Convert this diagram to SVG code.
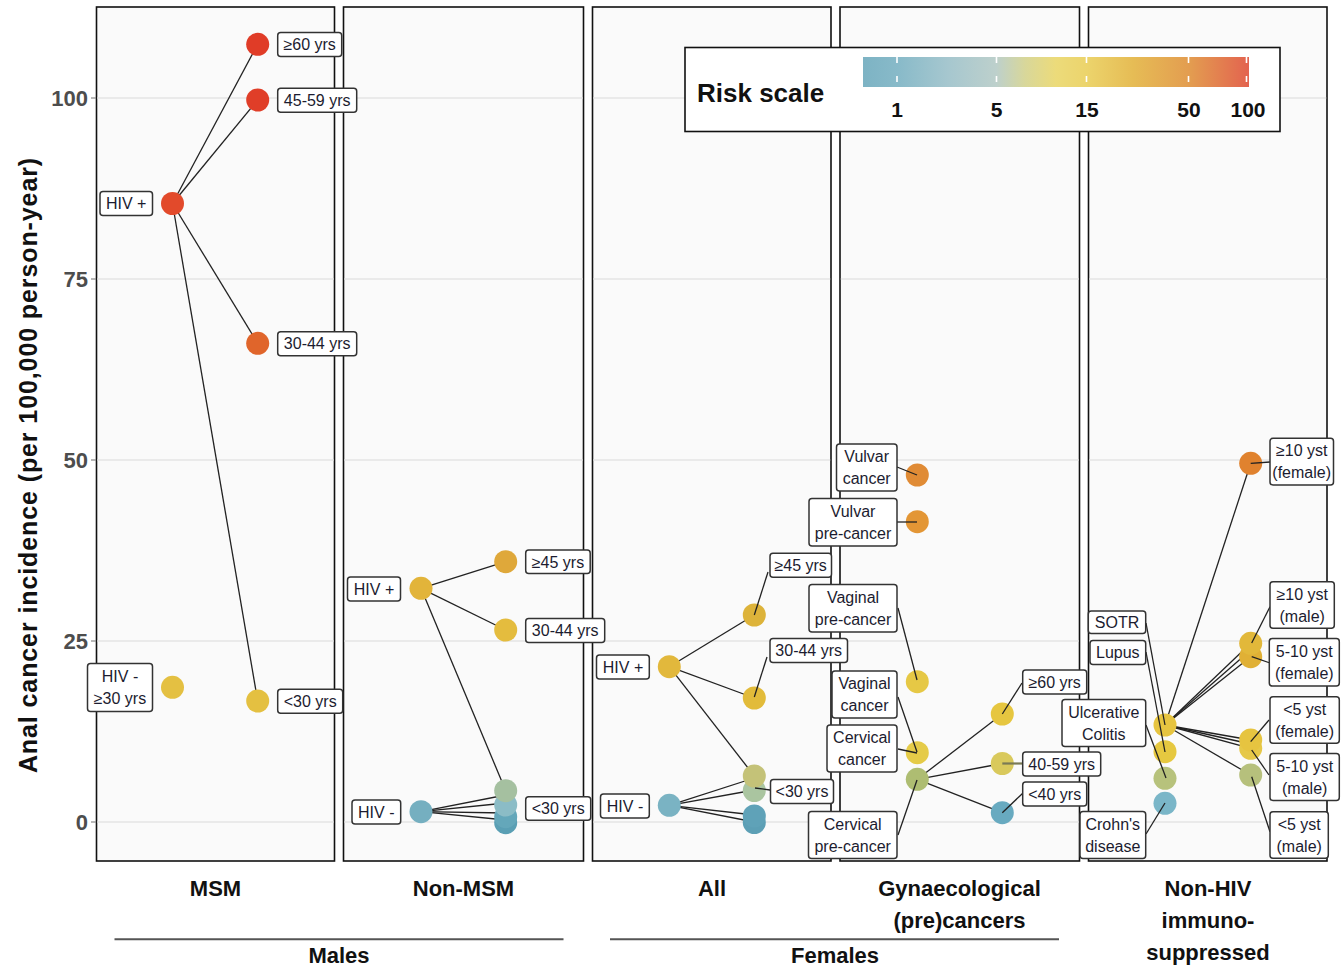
<svg xmlns="http://www.w3.org/2000/svg" width="1342" height="966" viewBox="0 0 1342 966">
<defs>
<linearGradient id="risk" x1="0" y1="0" x2="1" y2="0">
<stop offset="0" stop-color="#7db3c4"/>
<stop offset="0.09" stop-color="#88bac9"/>
<stop offset="0.22" stop-color="#a6c7cf"/>
<stop offset="0.345" stop-color="#bdd0cc"/>
<stop offset="0.42" stop-color="#d8d79a"/>
<stop offset="0.50" stop-color="#ecdb7a"/>
<stop offset="0.58" stop-color="#ecd46c"/>
<stop offset="0.70" stop-color="#e6bc55"/>
<stop offset="0.849" stop-color="#e39c50"/>
<stop offset="1" stop-color="#e3634f"/>
</linearGradient>
<style>
.panel{fill:#fafafa;stroke:#111;stroke-width:1.6}
.grid{stroke:#e4e4e4;stroke-width:1.5}
.tick{stroke:#888;stroke-width:1.2}
.ytxt{font-family:"Liberation Sans",Arial,sans-serif;font-size:22px;font-weight:bold;fill:#4d4d4d;text-anchor:end}
.conn line{stroke:#222;stroke-width:1.3}
.lead line{stroke:#222;stroke-width:1.3}
.lbl rect{fill:#fff;stroke:#333;stroke-width:1.5}
.lbl text{font-family:"Liberation Sans",Arial,sans-serif;font-size:16px;fill:#1c1c30;text-anchor:middle}
.strip{font-family:"Liberation Sans",Arial,sans-serif;font-size:22px;font-weight:bold;fill:#111;text-anchor:middle}
.leg{font-family:"Liberation Sans",Arial,sans-serif;font-weight:bold;fill:#111}
</style>
</defs>
<rect width="1342" height="966" fill="#fff"/>

<g id="panels">
<rect class="panel" x="96.5" y="7" width="238" height="854"/>
<rect class="panel" x="343.5" y="7" width="240" height="854"/>
<rect class="panel" x="592.5" y="7" width="238.5" height="854"/>
<rect class="panel" x="840" y="7" width="239.5" height="854"/>
<rect class="panel" x="1088.5" y="7" width="238.5" height="854"/>
<g id="gridlines">
<line class="grid" x1="97.3" y1="822" x2="333.7" y2="822"/><line class="grid" x1="344.3" y1="822" x2="582.7" y2="822"/><line class="grid" x1="593.3" y1="822" x2="830.2" y2="822"/><line class="grid" x1="840.8" y1="822" x2="1078.7" y2="822"/><line class="grid" x1="1089.3" y1="822" x2="1326.2" y2="822"/>
<line class="grid" x1="97.3" y1="641" x2="333.7" y2="641"/><line class="grid" x1="344.3" y1="641" x2="582.7" y2="641"/><line class="grid" x1="593.3" y1="641" x2="830.2" y2="641"/><line class="grid" x1="840.8" y1="641" x2="1078.7" y2="641"/><line class="grid" x1="1089.3" y1="641" x2="1326.2" y2="641"/>
<line class="grid" x1="97.3" y1="460" x2="333.7" y2="460"/><line class="grid" x1="344.3" y1="460" x2="582.7" y2="460"/><line class="grid" x1="593.3" y1="460" x2="830.2" y2="460"/><line class="grid" x1="840.8" y1="460" x2="1078.7" y2="460"/><line class="grid" x1="1089.3" y1="460" x2="1326.2" y2="460"/>
<line class="grid" x1="97.3" y1="279" x2="333.7" y2="279"/><line class="grid" x1="344.3" y1="279" x2="582.7" y2="279"/><line class="grid" x1="593.3" y1="279" x2="830.2" y2="279"/><line class="grid" x1="840.8" y1="279" x2="1078.7" y2="279"/><line class="grid" x1="1089.3" y1="279" x2="1326.2" y2="279"/>
<line class="grid" x1="97.3" y1="98" x2="333.7" y2="98"/><line class="grid" x1="344.3" y1="98" x2="582.7" y2="98"/><line class="grid" x1="593.3" y1="98" x2="830.2" y2="98"/><line class="grid" x1="840.8" y1="98" x2="1078.7" y2="98"/><line class="grid" x1="1089.3" y1="98" x2="1326.2" y2="98"/>
</g>
</g>

<g id="y-axis">
<line class="tick" x1="91" y1="822" x2="96" y2="822"/><line class="tick" x1="91" y1="641" x2="96" y2="641"/><line class="tick" x1="91" y1="460" x2="96" y2="460"/><line class="tick" x1="91" y1="279" x2="96" y2="279"/><line class="tick" x1="91" y1="98" x2="96" y2="98"/>
<text class="ytxt" x="88" y="830">0</text>
<text class="ytxt" x="88" y="649">25</text>
<text class="ytxt" x="88" y="468">50</text>
<text class="ytxt" x="88" y="287">75</text>
<text class="ytxt" x="88" y="106">100</text>
<text transform="translate(37,465) rotate(-90)" font-family="Liberation Sans, Arial, sans-serif" font-size="25" font-weight="bold" letter-spacing="0.9" fill="#111" text-anchor="middle">Anal cancer incidence (per 100,000 person-year)</text>
</g>

<g id="connectors" class="conn">
<line x1="172.5" y1="203.5" x2="257.7" y2="44.3"/>
<line x1="172.5" y1="203.5" x2="257.7" y2="100"/>
<line x1="172.5" y1="203.5" x2="257.7" y2="343.3"/>
<line x1="172.5" y1="203.5" x2="257.7" y2="701"/>
<line x1="421" y1="588.3" x2="505.7" y2="561.7"/>
<line x1="421" y1="588.3" x2="505.7" y2="630"/>
<line x1="421" y1="588.3" x2="505.7" y2="790.7"/>
<line x1="421" y1="811.7" x2="505.7" y2="795"/>
<line x1="421" y1="811.7" x2="505.7" y2="803"/>
<line x1="421" y1="811.7" x2="505.7" y2="813"/>
<line x1="421" y1="811.7" x2="505.7" y2="820"/>
<line x1="669.3" y1="666.7" x2="754.3" y2="615"/>
<line x1="669.3" y1="666.7" x2="754.3" y2="698"/>
<line x1="669.3" y1="666.7" x2="754.3" y2="776"/>
<line x1="669.3" y1="805.3" x2="754.3" y2="778"/>
<line x1="669.3" y1="805.3" x2="754.3" y2="790"/>
<line x1="669.3" y1="805.3" x2="754.3" y2="815"/>
<line x1="669.3" y1="805.3" x2="754.3" y2="822"/>
<line x1="917.3" y1="779.3" x2="1002.3" y2="714"/>
<line x1="917.3" y1="779.3" x2="1002.3" y2="763.5"/>
<line x1="917.3" y1="779.3" x2="1002.3" y2="812.7"/>
<line x1="1165" y1="725" x2="1250.7" y2="463.3"/>
<line x1="1165" y1="725" x2="1250.7" y2="643.3"/>
<line x1="1165" y1="725" x2="1250.7" y2="650"/>
<line x1="1165" y1="725" x2="1250.7" y2="656.7"/>
<line x1="1165" y1="725" x2="1250.7" y2="740"/>
<line x1="1165" y1="725" x2="1250.7" y2="744"/>
<line x1="1165" y1="725" x2="1250.7" y2="748.3"/>
<line x1="1165" y1="725" x2="1250.7" y2="775"/>
</g>

<g id="nodes">
<g id="msm-points">
<circle cx="172.5" cy="203.5" r="11.5" fill="#e24a2b"/>
<circle cx="257.7" cy="44.3" r="11.5" fill="#e03c27"/>
<circle cx="257.7" cy="100" r="11.5" fill="#e03e28"/>
<circle cx="257.7" cy="343.3" r="11.5" fill="#e0652b"/>
<circle cx="257.7" cy="701" r="11.5" fill="#e4c041"/>
<circle cx="172.5" cy="687.3" r="11.5" fill="#e4c042"/>
</g>
<g id="nonmsm-points">
<circle cx="421" cy="588.3" r="11.5" fill="#e2b43a"/>
<circle cx="505.7" cy="561.7" r="11.5" fill="#dfa83a"/>
<circle cx="505.7" cy="630" r="11.5" fill="#e4bc3e"/>
<circle cx="421" cy="811.7" r="11.5" fill="#75afc0"/>
<circle cx="505.7" cy="822.7" r="11.5" fill="#5a9fb4"/>
<circle cx="505.7" cy="816.7" r="11.5" fill="#64a7ba"/>
<circle cx="505.7" cy="805" r="11.5" fill="#8bbcc6"/>
<circle cx="505.7" cy="790.7" r="11.5" fill="#a5c0a0"/>
</g>
<g id="all-points">
<circle cx="669.3" cy="666.7" r="11.5" fill="#e2b83c"/>
<circle cx="754.3" cy="615" r="11.5" fill="#ddb33a"/>
<circle cx="754.3" cy="698" r="11.5" fill="#e2bb3a"/>
<circle cx="669.3" cy="805.3" r="11.5" fill="#7ab3c3"/>
<circle cx="754.3" cy="822.5" r="11.5" fill="#5c9fb5"/>
<circle cx="754.3" cy="816" r="11.5" fill="#5fa2b8"/>
<circle cx="754.3" cy="790.5" r="11.5" fill="#aac5a0"/>
<circle cx="754.3" cy="776" r="11.5" fill="#c4c278"/>
</g>
<g id="gyn-points">
<circle cx="917.3" cy="475" r="11.5" fill="#e08b35"/>
<circle cx="917.3" cy="521.7" r="11.5" fill="#e39635"/>
<circle cx="917.3" cy="681.7" r="11.5" fill="#e6c845"/>
<circle cx="917.3" cy="752.7" r="11.5" fill="#e5cb48"/>
<circle cx="917.3" cy="779.3" r="11.5" fill="#aebd72"/>
<circle cx="1002.3" cy="714" r="11.5" fill="#e6c640"/>
<circle cx="1002.3" cy="763.5" r="11.5" fill="#d9c95c"/>
<circle cx="1002.3" cy="812.7" r="11.5" fill="#68aac0"/>
</g>
<g id="nonhiv-points">
<circle cx="1165" cy="803.3" r="11.5" fill="#7ab6c8"/>
<circle cx="1165" cy="778.3" r="11.5" fill="#b7c27c"/>
<circle cx="1165" cy="751.7" r="11.5" fill="#e6c840"/>
<circle cx="1165" cy="725" r="11.5" fill="#e6c440"/>
<circle cx="1250.7" cy="463.3" r="11.5" fill="#e0822e"/>
<circle cx="1250.7" cy="656.7" r="11.5" fill="#e0b035"/>
<circle cx="1250.7" cy="643.3" r="11.5" fill="#e2b83a"/>
<circle cx="1250.7" cy="775" r="11.5" fill="#b6c07c"/>
<circle cx="1250.7" cy="748.3" r="11.5" fill="#e6c848"/>
<circle cx="1250.7" cy="740" r="11.5" fill="#e6c440"/>
</g>
</g>

<g id="leaders" class="lead">
<line x1="768" y1="572" x2="754.3" y2="615"/>
<line x1="767" y1="657" x2="754.3" y2="697"/>
<line x1="770" y1="790" x2="755" y2="788"/>
<line x1="897" y1="467" x2="917" y2="475"/>
<line x1="897" y1="522" x2="917" y2="522"/>
<line x1="898" y1="608" x2="917" y2="680"/>
<line x1="898" y1="697" x2="917" y2="752"/>
<line x1="898" y1="749" x2="917" y2="753"/>
<line x1="898" y1="835" x2="917" y2="780"/>
<line x1="1022" y1="683" x2="1002.3" y2="714"/>
<line x1="1023" y1="763.5" x2="1002.3" y2="763.5" style="stroke:#7a7a55;stroke-width:2.2"/>
<line x1="1023" y1="793" x2="1002.3" y2="812.7"/>
<line x1="1146" y1="623" x2="1165" y2="725"/>
<line x1="1146" y1="652" x2="1165" y2="752"/>
<line x1="1146" y1="725" x2="1166" y2="778"/>
<line x1="1146" y1="834" x2="1165" y2="803"/>
<line x1="1270" y1="462" x2="1250.7" y2="463.3"/>
<line x1="1270" y1="606.7" x2="1251.7" y2="643"/>
<line x1="1270" y1="663" x2="1251.7" y2="656.7"/>
<line x1="1269" y1="720" x2="1250.7" y2="741.7"/>
<line x1="1269" y1="775" x2="1251.7" y2="750"/>
<line x1="1270" y1="831.7" x2="1251.7" y2="776.7"/>
</g>

<g id="labels">
<g id="lbl-msm-60" class="lbl"><rect x="277.7" y="32.5" width="64" height="24" rx="3"/><text x="309.7" y="50">≥60 yrs</text></g>
<g id="lbl-msm-4559" class="lbl"><rect x="277.7" y="88.3" width="79" height="24" rx="3"/><text x="317.2" y="106">45-59 yrs</text></g>
<g id="lbl-msm-hivp" class="lbl"><rect x="100" y="191.5" width="52.5" height="24" rx="3"/><text x="126.2" y="209.2">HIV +</text></g>
<g id="lbl-msm-3044" class="lbl"><rect x="277.7" y="331.7" width="79" height="24" rx="3"/><text x="317.2" y="349.3">30-44 yrs</text></g>
<g id="lbl-msm-hivm" class="lbl"><rect x="87.5" y="663.5" width="65" height="48" rx="3"/><text x="120" y="681.5">HIV -</text><text x="120" y="703.5">≥30 yrs</text></g>
<g id="lbl-msm-30" class="lbl"><rect x="277.7" y="689.3" width="65" height="24" rx="3"/><text x="310.2" y="707">&lt;30 yrs</text></g>

<g id="lbl-nm-hivp" class="lbl"><rect x="347.5" y="577" width="53" height="24" rx="3"/><text x="374" y="594.8">HIV +</text></g>
<g id="lbl-nm-45" class="lbl"><rect x="525.7" y="550" width="64.5" height="23.5" rx="3"/><text x="558" y="567.5">≥45 yrs</text></g>
<g id="lbl-nm-3044" class="lbl"><rect x="525.7" y="618.5" width="79" height="24" rx="3"/><text x="565.2" y="636.3">30-44 yrs</text></g>
<g id="lbl-nm-hivm" class="lbl"><rect x="352" y="800" width="48.7" height="24" rx="3"/><text x="376.3" y="817.8">HIV -</text></g>
<g id="lbl-nm-30" class="lbl"><rect x="525.7" y="796.7" width="65" height="23.5" rx="3"/><text x="558.2" y="814.2">&lt;30 yrs</text></g>

<g id="lbl-all-hivp" class="lbl"><rect x="596.5" y="655" width="52.8" height="24" rx="3"/><text x="623" y="672.8">HIV +</text></g>
<g id="lbl-all-45" class="lbl"><rect x="770" y="553.3" width="61.5" height="24" rx="3"/><text x="800.7" y="571">≥45 yrs</text></g>
<g id="lbl-all-3044" class="lbl"><rect x="770" y="638.5" width="77.5" height="24" rx="3"/><text x="808.7" y="656.3">30-44 yrs</text></g>
<g id="lbl-all-hivm" class="lbl"><rect x="600.5" y="794" width="48.8" height="24" rx="3"/><text x="625" y="811.8">HIV -</text></g>
<g id="lbl-all-30" class="lbl"><rect x="770.5" y="779.5" width="63" height="24" rx="3"/><text x="802" y="797.3">&lt;30 yrs</text></g>

<g id="lbl-gyn-vulc" class="lbl"><rect x="836.5" y="444" width="60.5" height="47" rx="3"/><text x="866.7" y="462">Vulvar</text><text x="866.7" y="484">cancer</text></g>
<g id="lbl-gyn-vulpc" class="lbl"><rect x="809" y="498.5" width="88" height="47.5" rx="3"/><text x="853" y="516.5">Vulvar</text><text x="853" y="538.5">pre-cancer</text></g>
<g id="lbl-gyn-vagpc" class="lbl"><rect x="809" y="584.5" width="88" height="47.5" rx="3"/><text x="853" y="602.5">Vaginal</text><text x="853" y="624.5">pre-cancer</text></g>
<g id="lbl-gyn-vagc" class="lbl"><rect x="832" y="671" width="65" height="47" rx="3"/><text x="864.5" y="689">Vaginal</text><text x="864.5" y="711">cancer</text></g>
<g id="lbl-gyn-cerc" class="lbl"><rect x="827" y="725" width="70" height="47" rx="3"/><text x="862" y="743">Cervical</text><text x="862" y="765">cancer</text></g>
<g id="lbl-gyn-cerpc" class="lbl"><rect x="808.5" y="811.5" width="88.5" height="47" rx="3"/><text x="852.7" y="829.5">Cervical</text><text x="852.7" y="851.5">pre-cancer</text></g>
<g id="lbl-gyn-60" class="lbl"><rect x="1022.7" y="670" width="64" height="24" rx="3"/><text x="1054.7" y="687.8">≥60 yrs</text></g>
<g id="lbl-gyn-4059" class="lbl"><rect x="1022.7" y="752" width="78" height="24" rx="3"/><text x="1061.7" y="769.8">40-59 yrs</text></g>
<g id="lbl-gyn-40" class="lbl"><rect x="1022.7" y="782" width="64" height="24" rx="3"/><text x="1054.7" y="799.8">&lt;40 yrs</text></g>

<g id="lbl-nh-sotr" class="lbl"><rect x="1088.3" y="611" width="57.4" height="22.5" rx="3"/><text x="1117" y="628">SOTR</text></g>
<g id="lbl-nh-lupus" class="lbl"><rect x="1090" y="640.5" width="55.7" height="24" rx="3"/><text x="1117.8" y="658.3">Lupus</text></g>
<g id="lbl-nh-uc" class="lbl"><rect x="1062" y="699.5" width="83.7" height="47" rx="3"/><text x="1103.8" y="717.5">Ulcerative</text><text x="1103.8" y="739.5">Colitis</text></g>
<g id="lbl-nh-crohn" class="lbl"><rect x="1080" y="811.5" width="65.7" height="47" rx="3"/><text x="1112.8" y="829.5">Crohn's</text><text x="1112.8" y="851.5">disease</text></g>
<g id="lbl-nh-10f" class="lbl"><rect x="1270" y="438.3" width="63.5" height="46.7" rx="3"/><text x="1301.7" y="456.3">≥10 yst</text><text x="1301.7" y="478.3">(female)</text></g>
<g id="lbl-nh-10m" class="lbl"><rect x="1270" y="581.7" width="64.3" height="46.6" rx="3"/><text x="1302.2" y="599.7">≥10 yst</text><text x="1302.2" y="621.7">(male)</text></g>
<g id="lbl-nh-510f" class="lbl"><rect x="1269.3" y="638.5" width="70" height="47.5" rx="3"/><text x="1304.3" y="656.5">5-10 yst</text><text x="1304.3" y="678.5">(female)</text></g>
<g id="lbl-nh-5f" class="lbl"><rect x="1270" y="696.7" width="69.3" height="46.6" rx="3"/><text x="1304.7" y="714.7">&lt;5 yst</text><text x="1304.7" y="736.7">(female)</text></g>
<g id="lbl-nh-510m" class="lbl"><rect x="1270" y="753.5" width="69.3" height="47" rx="3"/><text x="1304.7" y="771.5">5-10 yst</text><text x="1304.7" y="793.5">(male)</text></g>
<g id="lbl-nh-5m" class="lbl"><rect x="1270" y="811.7" width="58.3" height="46.6" rx="3"/><text x="1299.2" y="829.7">&lt;5 yst</text><text x="1299.2" y="851.7">(male)</text></g>
</g>

<g id="strips">
<text class="strip" x="215.5" y="896">MSM</text>
<text class="strip" x="463.5" y="896">Non-MSM</text>
<text class="strip" x="712" y="896">All</text>
<text class="strip" x="959.5" y="896">Gynaecological</text>
<text class="strip" x="959.5" y="928">(pre)cancers</text>
<text class="strip" x="1208" y="896">Non-HIV</text>
<text class="strip" x="1208" y="928">immuno-</text>
<text class="strip" x="1208" y="960">suppressed</text>
<line x1="114.5" y1="939.3" x2="563.5" y2="939.3" stroke="#555" stroke-width="2"/>
<line x1="610" y1="939.3" x2="1059" y2="939.3" stroke="#555" stroke-width="2"/>
<text class="strip" x="339" y="963">Males</text>
<text class="strip" x="835" y="963">Females</text>
</g>

<g id="legend">
<rect x="685" y="47.5" width="595" height="84" fill="#fff" stroke="#111" stroke-width="1.6"/>
<text class="leg" x="697" y="101.5" font-size="26">Risk scale</text>
<rect x="863" y="57" width="386" height="30" fill="url(#risk)"/>
<g stroke="#fff" stroke-width="1.6" stroke-dasharray="6 13">
<line x1="897" y1="57" x2="897" y2="87"/>
<line x1="996.5" y1="57" x2="996.5" y2="87"/>
<line x1="1086.5" y1="57" x2="1086.5" y2="87"/>
<line x1="1188.5" y1="57" x2="1188.5" y2="87"/>
<line x1="1246.5" y1="57" x2="1246.5" y2="87"/>
</g>
<g class="leg" font-size="21" text-anchor="middle">
<text x="897" y="117">1</text>
<text x="996.5" y="117">5</text>
<text x="1087" y="117">15</text>
<text x="1189" y="117">50</text>
<text x="1248" y="117">100</text>
</g>
</g>
</svg>
